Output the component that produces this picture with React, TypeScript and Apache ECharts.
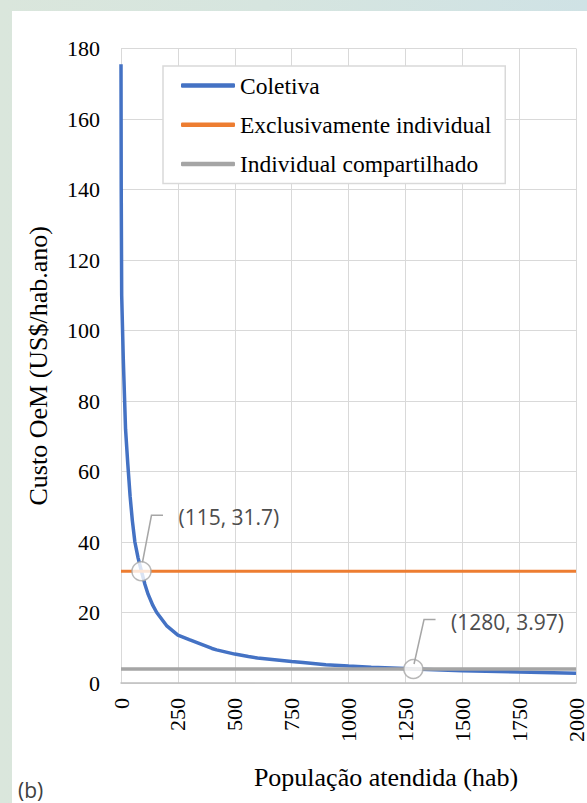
import React, { useEffect, useRef } from "react";
import * as echarts from "echarts";

// ---- data ----
const popX = [0, 1, 3, 10, 20, 30, 40, 50, 61, 75, 90, 105, 119, 140, 157, 200, 250, 300, 400, 420, 500, 560, 600, 750, 800, 900, 1000, 1100, 1250, 1285, 1500, 1750, 2000];
const coletiva = [175.5, 140, 110, 92, 72, 62, 53, 46, 40, 35.5, 31.7, 28, 25.2, 22, 20, 16.3, 13.6, 12.3, 9.8, 9.4, 8.2, 7.5, 7.1, 6.1, 5.8, 5.2, 4.8, 4.5, 4.1, 3.97, 3.5, 3.1, 2.8];
const lineX = [0, 2000];
const exclusivamente = [31.7, 31.7];
const compartilhado = [3.97, 3.97];
const seriesNames = ["Coletiva", "Exclusivamente individual", "Individual compartilhado"];
const annotX = [90, 1285];
const annotY = [31.7, 3.97];
const annotLabels = ["(115, 31.7)", "(1280, 3.97)"];

// ---- layout/style ----
const leaderOffsets = [
  { sx: 1, sy: -9, ex: 10, ey: -56 },
  { sx: 0.7, sy: -5, ex: 10.7, ey: -49.5 },
];
const serif = "Liberation Serif";
const sans = "Open Sans";

export default function App() {
  const ref = useRef<HTMLDivElement>(null);
  useEffect(() => {
    document.body.style.margin = "0";
    if (!ref.current) return;
    const chart = echarts.init(ref.current, undefined, { renderer: "svg" });
    const option: any = {
      animation: false,
      textStyle: { fontFamily: serif },
      grid: { left: 121, right: 7, top: 48.5, bottom: 120, containLabel: false },
      legend: {
        data: seriesNames,
        orient: "vertical",
        left: 163,
        top: 66,
        backgroundColor: "#ffffff",
        borderColor: "#d9d9d9",
        borderWidth: 1.5,
        borderRadius: 0,
        padding: [7.5, 14, 7.5, 18],
        itemGap: 15.3,
        itemWidth: 54,
        itemHeight: 4.5,
        icon: "roundRect",
        textStyle: { fontFamily: serif, fontSize: 23.5, color: "#000" },
      },
      xAxis: {
        type: "value",
        min: 0,
        max: 2000,
        interval: 250,
        axisLine: { show: true, lineStyle: { color: "#bfbfbf", width: 1.5 } },
        axisTick: { show: false },
        splitLine: { show: true, lineStyle: { color: "#d9d9d9", width: 1 } },
        axisLabel: {
          rotate: 90,
          margin: 15,
          fontFamily: serif,
          fontSize: 22,
          color: "#000",
          formatter: (v: number) => String(v),
        },
      },
      yAxis: {
        type: "value",
        min: 0,
        max: 180,
        interval: 20,
        name: "Custo OeM (US$/hab.ano)",
        nameLocation: "middle",
        nameGap: 70,
        nameTextStyle: { fontFamily: serif, fontSize: 26, color: "#000" },
        axisLine: { show: false },
        axisTick: { show: false },
        splitLine: { show: true, lineStyle: { color: "#d9d9d9", width: 1 } },
        axisLabel: {
          margin: 21,
          fontFamily: serif,
          fontSize: 22,
          color: "#000",
          formatter: (v: number) => String(v),
        },
      },
      series: [
        {
          name: seriesNames[0],
          type: "line",
          data: popX.map((x, i) => [x, coletiva[i]]),
          showSymbol: false,
          symbol: "none",
          lineStyle: { color: "#4472C4", width: 3.5 },
          itemStyle: { color: "#4472C4" },
        },
        {
          name: seriesNames[1],
          type: "line",
          data: lineX.map((x, i) => [x, exclusivamente[i]]),
          showSymbol: false,
          symbol: "none",
          lineStyle: { color: "#ED7D31", width: 3.2 },
          itemStyle: { color: "#ED7D31" },
        },
        {
          name: seriesNames[2],
          type: "line",
          data: lineX.map((x, i) => [x, compartilhado[i]]),
          showSymbol: false,
          symbol: "none",
          lineStyle: { color: "#A5A5A5", width: 3.5 },
          itemStyle: { color: "#A5A5A5" },
        },
        {
          name: "annot",
          type: "scatter",
          data: annotX.map((x, i) => [x, annotY[i]]),
          symbol: "circle",
          symbolSize: 19,
          itemStyle: { color: "#ffffff", borderColor: "#a6a6a6", borderWidth: 1.5 },
          z: 5,
        },
      ],
    };
    chart.setOption(option);

    const graphics: any[] = [];
    annotX.forEach((x, i) => {
      const p = chart.convertToPixel({ gridIndex: 0 }, [x, annotY[i]]) as number[];
      const o = leaderOffsets[i];
      graphics.push({
        type: "polyline",
        id: "leader" + i,
        z: 10,
        shape: {
          points: [
            [p[0] + o.sx, p[1] + o.sy],
            [p[0] + o.ex, p[1] + o.ey],
            [p[0] + o.ex + 11.5, p[1] + o.ey],
          ],
        },
        style: { stroke: "#a6a6a6", lineWidth: 1.5, fill: null },
      });
      graphics.push({
        type: "text",
        id: "annot" + i,
        z: 10,
        x: p[0] + o.ex + 27,
        y: p[1] + o.ey + 2,
        style: {
          text: annotLabels[i],
          fontFamily: sans,
          fontSize: 21,
          fill: "#4d4d4d",
          align: "left",
          verticalAlign: "middle",
        },
      });
    });
    graphics.push({
      type: "text",
      id: "xtitle",
      x: 386,
      y: 777,
      style: {
        text: "População atendida (hab)",
        fontFamily: serif,
        fontSize: 26,
        fill: "#000",
        align: "center",
        verticalAlign: "middle",
      },
    });
    graphics.push({
      type: "text",
      id: "panelLabel",
      x: 18,
      y: 790,
      style: {
        text: "(b)",
        fontFamily: sans,
        fontSize: 21,
        fill: "#404040",
        align: "left",
        verticalAlign: "middle",
      },
    });
    chart.setOption({ graphic: graphics });

    return () => chart.dispose();
  }, []);

  return (
    <div
      style={{
        position: "relative",
        width: 587,
        height: 803,
        overflow: "hidden",
        background: "linear-gradient(90deg, #dae6dc 0%, #d6e5df 45%, #cfe2e5 100%)",
      }}
    >
      <div
        style={{
          position: "absolute",
          left: 12,
          top: 11,
          width: 575,
          height: 792,
          background: "#ffffff",
        }}
      />
      <div ref={ref} style={{ position: "absolute", left: 0, top: 0, width: 587, height: 803 }} />
    </div>
  );
}
